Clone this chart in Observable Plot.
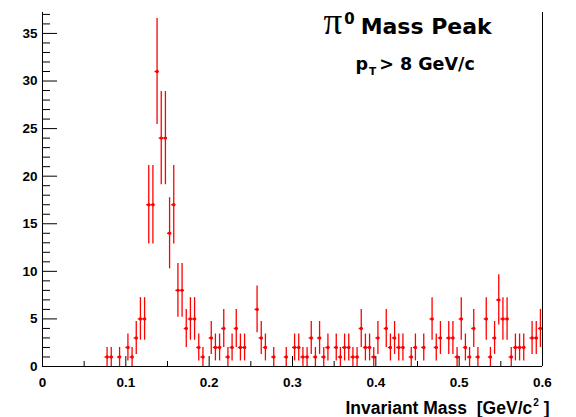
<!DOCTYPE html>
<html>
<head>
<meta charset="utf-8">
<script src="https://cdn.jsdelivr.net/npm/d3@7"></script>
<script src="https://cdn.jsdelivr.net/npm/@observablehq/plot@0.6"></script>
<style>
  html, body { margin: 0; padding: 0; background: #fff; }
  #chart { width: 576px; height: 417px; }
</style>
</head>
<body>
<div id="chart"></div>
<script>
// Bin centres (GeV/c^2) of non-empty bins, bin width 0.005
const mass = [
  0.0775, 0.0825, 0.0925, 0.1025, 0.1075, 0.1125, 0.1175, 0.1225, 0.1275, 0.1325,
  0.1375, 0.1425, 0.1475, 0.1525, 0.1575, 0.1625, 0.1675, 0.1725, 0.1775, 0.1825,
  0.1875, 0.1925, 0.2025, 0.2075, 0.2125, 0.2175, 0.2225, 0.2275, 0.2325, 0.2375,
  0.2425, 0.2575, 0.2625, 0.2675, 0.2775, 0.2925, 0.3025, 0.3075, 0.3125, 0.3175,
  0.3225, 0.3275, 0.3325, 0.3375, 0.3425, 0.3525, 0.3575, 0.3625, 0.3675, 0.3725,
  0.3775, 0.3825, 0.3875, 0.3925, 0.3975, 0.4025, 0.4125, 0.4175, 0.4225, 0.4275,
  0.4325, 0.4425, 0.4475, 0.4575, 0.4675, 0.4725, 0.4775, 0.4875, 0.4925, 0.4975,
  0.5025, 0.5075, 0.5125, 0.5175, 0.5225, 0.5325, 0.5375, 0.5425, 0.5475, 0.5525,
  0.5575, 0.5625, 0.5675, 0.5725, 0.5775, 0.5875, 0.5925, 0.5975
];
// Entries per bin
const counts = [
  1, 1, 1, 2, 1, 3, 5, 5, 17, 17,
  31, 24, 24, 14, 17, 8, 8, 4, 5, 5,
  2, 1, 3, 2, 2, 4, 1, 2, 4, 2,
  2, 6, 3, 2, 1, 1, 2, 2, 1, 1,
  3, 1, 3, 1, 2, 2, 1, 2, 2, 1,
  1, 4, 2, 2, 1, 3, 4, 2, 3, 2,
  2, 1, 2, 2, 5, 2, 3, 3, 3, 1,
  5, 2, 1, 4, 1, 5, 1, 3, 7, 5,
  5, 1, 2, 2, 2, 3, 3, 4
];
const binHalfWidth = 0.0025;

const xTicks = [0, 0.1, 0.2, 0.3, 0.4, 0.5, 0.6];
const xTickLabels = ["0", "0.1", "0.2", "0.3", "0.4", "0.5", "0.6"];
const xMinorTicks = [0.05, 0.15, 0.25, 0.35, 0.45, 0.55];
const yTicks = [0, 5, 10, 15, 20, 25, 30, 35];
const yTickLabels = ["0", "5", "10", "15", "20", "25", "30", "35"];
const yMinorTicks = d3.range(0, 38).filter(v => v % 5 !== 0);

const titleText = "Mass Peak";
const subtitleText = "> 8 GeV/c";
const xTitleText = "Invariant Mass  [GeV/c";

// Table with Poisson (sqrt N) errors
const data = mass.map((m, i) => ({
  m, n: counts[i],
  lo: counts[i] - Math.sqrt(counts[i]),
  hi: counts[i] + Math.sqrt(counts[i])
}));

const W = 576, H = 417;
const mL = 42, mR = 34, mT = 12, mB = 51;
const innerW = W - mL - mR, innerH = H - mT - mB;
const red = "#ff0000";
const wide = "'DejaVu Sans', Verdana, sans-serif";

const svg = Plot.plot({
  width: W, height: H,
  marginLeft: mL, marginRight: mR, marginTop: mT, marginBottom: mB,
  x: {domain: [0, 0.6]},
  y: {domain: [0, 37.2]},
  style: {fontFamily: "'Liberation Sans', Arial, Helvetica, sans-serif", background: "white", color: "black"},
  marks: [
    // error bars
    Plot.ruleX(data, {x: "m", y1: "lo", y2: "hi", stroke: red, strokeWidth: 1.3}),
    Plot.ruleY(data, {y: "n", x1: d => d.m - binHalfWidth, x2: d => d.m + binHalfWidth, stroke: red, strokeWidth: 1.3}),
    Plot.dot(data, {x: "m", y: "n", r: 1.7, fill: red, stroke: null}),
    // frame lines
    Plot.ruleX([0, 0.6], {stroke: "black", strokeWidth: 1}),
    Plot.ruleY([0], {stroke: "black", strokeWidth: 1}),
    // inward ticks
    Plot.tickX(xTicks, {x: d => d, insetTop: innerH - 10, stroke: "black"}),
    Plot.tickX(xMinorTicks, {x: d => d, insetTop: innerH - 5, stroke: "black"}),
    Plot.tickY(yTicks, {y: d => d, insetRight: innerW - 15, stroke: "black"}),
    Plot.tickY(yMinorTicks, {y: d => d, insetRight: innerW - 8, stroke: "black"}),
    // tick labels
    Plot.axisX({ticks: xTicks, tickSize: 0, tickPadding: 11, tickFormat: (d, i) => xTickLabels[i], fontSize: 13.5, fontWeight: "bold", label: null}),
    Plot.axisY({ticks: yTicks, tickSize: 0, tickPadding: 5, tickFormat: (d, i) => yTickLabels[i], fontSize: 13.5, fontWeight: "bold", label: null}),
    // titles
    Plot.text([titleText], {frameAnchor: "top-left", dx: 281, dy: 21, textAnchor: "start", lineAnchor: "bottom", fontSize: 22, fontWeight: "bold", fontFamily: wide}),
    Plot.text([subtitleText], {frameAnchor: "top-left", dx: 313, dy: 57, textAnchor: "start", lineAnchor: "bottom", fontSize: 17.5, fontWeight: "bold", fontFamily: wide}),
    Plot.text([xTitleText], {frameAnchor: "bottom-right", dx: 7, dy: 47, textAnchor: "end", lineAnchor: "bottom", fontSize: 17.5, fontWeight: "bold"})
  ]
});

// rich text: super/subscripts
const s = d3.select(svg);
function findText(str) {
  return s.selectAll("text").filter(function () { return this.textContent === str; });
}
{
  const t = findText(titleText);
  t.text(null);
  t.append("tspan").attr("font-family", "'Liberation Serif', 'Times New Roman', serif").attr("font-weight", "normal").attr("font-size", 37).text("\u03c0");
  t.append("tspan").attr("font-size", 15).attr("dx", 2).attr("dy", -10).text("0");
  t.append("tspan").attr("dx", 6).attr("dy", 10).text(titleText);
}
{
  const t = findText(subtitleText);
  t.text(null);
  t.append("tspan").text("p");
  t.append("tspan").attr("font-size", 10.5).attr("dy", 5.5).attr("dx", 1).text("T");
  t.append("tspan").attr("dy", -5.5).attr("dx", 3).text(subtitleText);
}
{
  const t = findText(xTitleText);
  t.text(null);
  t.append("tspan").text(xTitleText);
  t.append("tspan").attr("font-size", 10).attr("dy", -8).attr("dx", 1).text("2");
  t.append("tspan").attr("dy", 8).text(" ]");
}
document.getElementById("chart").appendChild(svg);
</script>
</body>
</html>
